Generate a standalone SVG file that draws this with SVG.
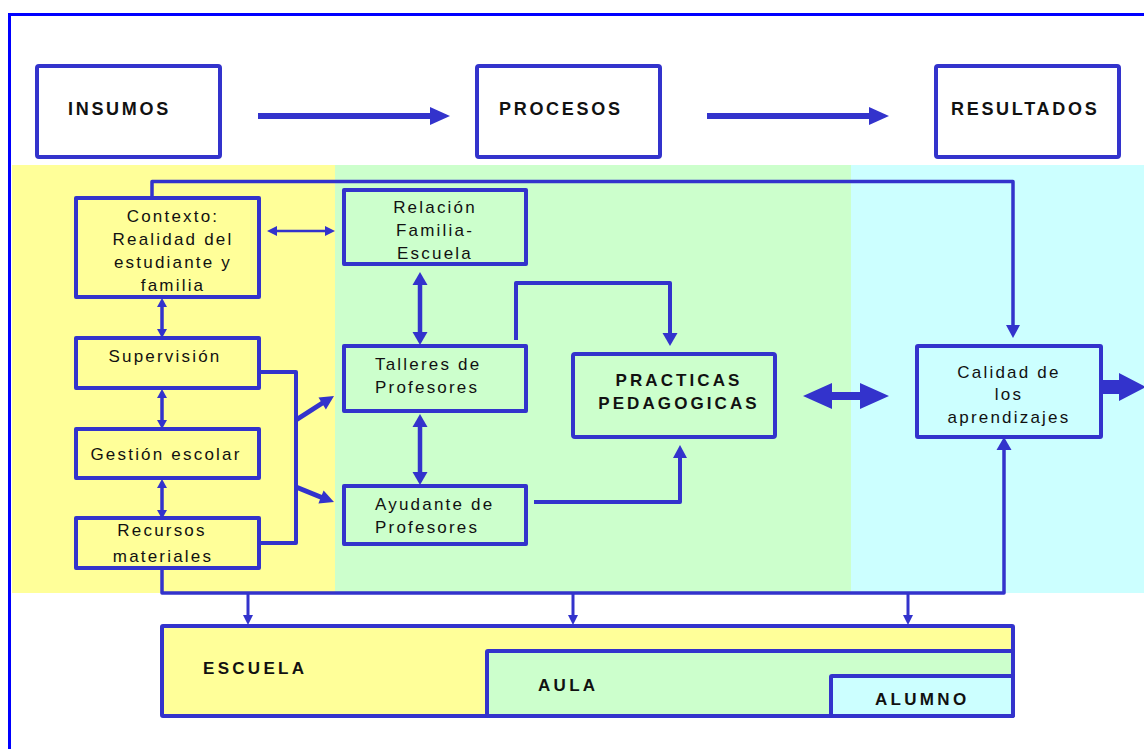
<svg xmlns="http://www.w3.org/2000/svg" width="1144" height="749" viewBox="0 0 1144 749">
<style>
.box{stroke:#3333CC;stroke-width:4;stroke-linejoin:round}
.w{fill:#FFFFFF}.y{fill:#FFFF99}.g{fill:#CCFFCC}.c{fill:#CCFFFF}
.ln{fill:none;stroke:#3333CC;stroke-linejoin:round}
.hd{fill:#3333CC;stroke:none}
.t{font-family:"Liberation Sans",Arial,sans-serif;font-size:17px;letter-spacing:2.2px;fill:#111111}
.b{font-family:"Liberation Sans",Arial,sans-serif;font-size:18px;font-weight:bold;letter-spacing:2.7px;fill:#111111}
.bp{font-family:"Liberation Sans",Arial,sans-serif;font-size:17px;font-weight:bold;letter-spacing:3.1px;fill:#111111}
.bs{font-family:"Liberation Sans",Arial,sans-serif;font-size:17px;font-weight:bold;letter-spacing:3.3px;fill:#111111}
.m{text-anchor:middle}
</style>
<rect x="0" y="0" width="1144" height="749" fill="#FFFFFF"/>
<g id="bands">
<rect x="12" y="165" width="323" height="428" fill="#FFFF99"/>
<rect x="335" y="165" width="516" height="428" fill="#CCFFCC"/>
<rect x="851" y="165" width="293" height="428" fill="#CCFFFF"/>
</g>
<g id="frame">
<path d="M9.5,749 V14.5 H1144" fill="none" stroke="#0000FF" stroke-width="3"/>
</g>
<g id="connectors">
<line x1="258" y1="116" x2="432" y2="116" stroke="#3333CC" stroke-width="6"/>
<polygon class="hd" points="430,107 450,116 430,125"/>
<line x1="707" y1="116" x2="871" y2="116" stroke="#3333CC" stroke-width="6"/>
<polygon class="hd" points="869,107 889,116 869,125"/>
<polyline class="ln" stroke-width="3.5" points="152,197 152,181.5 1013,181.5 1013,326"/>
<polygon class="hd" points="1006,325 1020,325 1013,338"/>
<line class="ln" stroke-width="2.5" x1="276" y1="231" x2="326" y2="231"/>
<polygon class="hd" points="267,231 277,226 277,236"/>
<polygon class="hd" points="335,231 325,226 325,236"/>
<line class="ln" stroke-width="3.5" x1="162" y1="305" x2="162" y2="331"/>
<polygon class="hd" points="162,298 157,307 167,307"/>
<polygon class="hd" points="162,338 157,329 167,329"/>
<line class="ln" stroke-width="3.5" x1="162" y1="396" x2="162" y2="422"/>
<polygon class="hd" points="162,389 157,398 167,398"/>
<polygon class="hd" points="162,429 157,420 167,420"/>
<line class="ln" stroke-width="3.5" x1="162" y1="486" x2="162" y2="512"/>
<polygon class="hd" points="162,479 157,488 167,488"/>
<polygon class="hd" points="162,519 157,510 167,510"/>
<polyline class="ln" stroke-width="4" points="258,372 296,372 296,543 258,543"/>
<line class="ln" stroke-width="5" x1="296" y1="420" x2="324" y2="402"/>
<polygon class="hd" points="334,396 325.9,409.4 318.5,397.6"/>
<line class="ln" stroke-width="5" x1="296" y1="487" x2="323" y2="498"/>
<polygon class="hd" points="334,502 318.4,503.4 323.6,490.4"/>
<line class="ln" stroke-width="4.5" x1="420" y1="283" x2="420" y2="334"/>
<polygon class="hd" points="420,272 412.5,285 427.5,285"/>
<polygon class="hd" points="420,345 412.5,332 427.5,332"/>
<line class="ln" stroke-width="4.5" x1="420" y1="425" x2="420" y2="474"/>
<polygon class="hd" points="420,414 412.5,427 427.5,427"/>
<polygon class="hd" points="420,485 412.5,472 427.5,472"/>
<polyline class="ln" stroke-width="4" points="516,340 516,283 670,283 670,334"/>
<polygon class="hd" points="662.5,333 677.5,333 670,346"/>
<polyline class="ln" stroke-width="4" points="534,502 680,502 680,457"/>
<polygon class="hd" points="673,458 687,458 680,445"/>
<polygon class="hd" points="803,396 832,383 832,392 860,392 860,383 889,396 860,409 860,400 832,400 832,409"/>
<polygon class="hd" points="1101,380 1119,380 1119,373 1146,387 1119,401 1119,394 1101,394"/>
<polyline class="ln" stroke-width="3.5" points="162,568 162,593 1004,593 1004,448"/>
<polygon class="hd" points="996.5,450 1011.5,450 1004,437"/>
<line class="ln" stroke-width="3" x1="248" y1="593" x2="248" y2="617"/>
<polygon class="hd" points="243,615 253,615 248,625"/>
<line class="ln" stroke-width="3" x1="573" y1="593" x2="573" y2="617"/>
<polygon class="hd" points="568,615 578,615 573,625"/>
<line class="ln" stroke-width="3" x1="908" y1="593" x2="908" y2="617"/>
<polygon class="hd" points="903,615 913,615 908,625"/>
</g>
<g id="insumos">
<rect class="box w" x="37" y="66" width="183" height="91" rx="2"/>
<text class="b" x="68" y="115">INSUMOS</text>
</g>
<g id="procesos">
<rect class="box w" x="477" y="66" width="183" height="91" rx="2"/>
<text class="b" x="499" y="115">PROCESOS</text>
</g>
<g id="resultados">
<rect class="box w" x="936" y="66" width="183" height="91" rx="2"/>
<text class="b" x="951" y="115">RESULTADOS</text>
</g>
<g id="contexto">
<rect class="box y" x="76" y="198" width="183" height="99"/>
<text class="t m" x="173" y="222">Contexto:</text>
<text class="t m" x="173" y="245">Realidad del</text>
<text class="t m" x="173" y="268">estudiante y</text>
<text class="t m" x="173" y="291">familia</text>
</g>
<g id="supervision">
<rect class="box y" x="76" y="338" width="183" height="50"/>
<text class="t m" x="165" y="362">Supervisión</text>
</g>
<g id="gestion">
<rect class="box y" x="76" y="429" width="183" height="49"/>
<text class="t m" x="166" y="460">Gestión escolar</text>
</g>
<g id="recursos">
<rect class="box y" x="76" y="518" width="183" height="50"/>
<text class="t m" x="162" y="536">Recursos</text>
<text class="t m" x="163" y="562">materiales</text>
</g>
<g id="relacion">
<rect class="box g" x="344" y="190" width="182" height="74"/>
<text class="t m" x="435" y="213">Relación</text>
<text class="t m" x="435" y="236">Familia-</text>
<text class="t m" x="435" y="259">Escuela</text>
</g>
<g id="talleres">
<rect class="box g" x="344" y="346" width="182" height="65"/>
<text class="t" x="375" y="370">Talleres de</text>
<text class="t" x="375" y="393">Profesores</text>
</g>
<g id="ayudante">
<rect class="box g" x="344" y="486" width="182" height="58"/>
<text class="t" x="375" y="510">Ayudante de</text>
<text class="t" x="375" y="533">Profesores</text>
</g>
<g id="practicas">
<rect class="box g" x="573" y="354" width="202" height="83" rx="2"/>
<text class="bp m" x="679" y="386">PRACTICAS</text>
<text class="bp m" x="679" y="409">PEDAGOGICAS</text>
</g>
<g id="calidad">
<rect class="box c" x="917" y="346" width="184" height="91" rx="1"/>
<text class="t m" x="1009" y="378">Calidad de</text>
<text class="t m" x="1009" y="400">los</text>
<text class="t m" x="1009" y="423">aprendizajes</text>
</g>
<g id="escuela">
<rect class="box y" x="162" y="626" width="851" height="90" rx="1"/>
<text class="bs" x="203" y="674">ESCUELA</text>
</g>
<g id="aula">
<rect class="box g" x="487" y="651" width="526" height="65" rx="1"/>
<text class="bs" x="538" y="691">AULA</text>
</g>
<g id="alumno">
<rect class="box c" x="831" y="676" width="182" height="40" rx="1"/>
<text class="bs" x="875" y="705">ALUMNO</text>
</g>
</svg>
